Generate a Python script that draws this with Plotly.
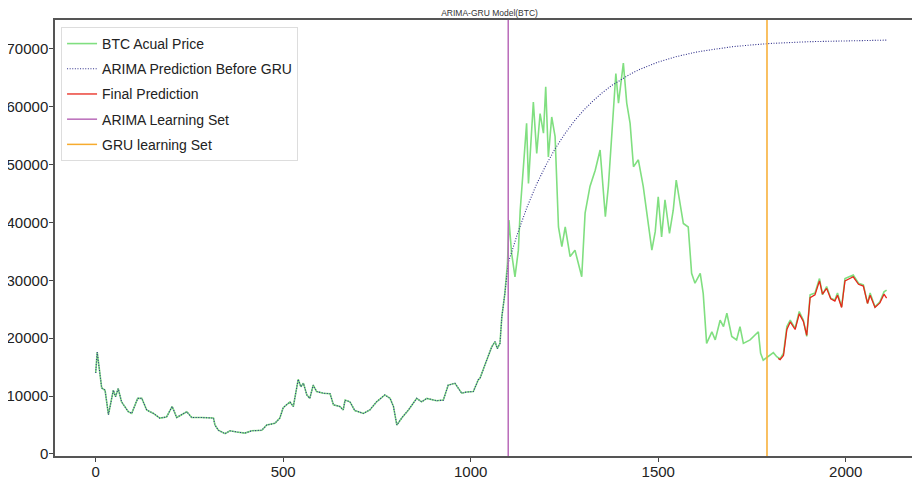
import plotly.graph_objects as go

# ---- data ----
price_x = [0, 4, 11, 16, 25, 34, 47, 53, 60, 69, 87, 96, 112, 123, 136, 154, 171, 189, 204, 216,
           243, 256, 283, 314, 318, 327, 345, 358, 376, 398, 416, 443, 456, 478, 491, 500, 518, 527,
           540, 547, 554, 563, 571, 580, 589, 607, 625, 634, 651, 660, 665, 678, 691, 714, 731, 749,
           771, 785, 794, 803, 816, 834, 856, 869, 883, 909, 927, 940, 958, 976, 989, 1007, 1020,
           1025, 1038, 1056, 1065, 1071, 1078, 1083, 1091, 1098, 1102, 1109, 1118, 1127, 1132, 1140,
           1149, 1154, 1167, 1176, 1185, 1194, 1200, 1207, 1216, 1225, 1234, 1243, 1252, 1265, 1278,
           1296, 1305, 1318, 1332, 1345, 1359, 1367, 1380, 1387, 1394, 1407, 1416, 1425, 1434, 1447,
           1460, 1469, 1483, 1492, 1500, 1509, 1518, 1530, 1540, 1548, 1559, 1567, 1580, 1589, 1598,
           1612, 1620, 1625, 1629, 1643, 1652, 1665, 1674, 1683, 1696, 1709, 1718, 1727, 1745, 1767,
           1773, 1780, 1789, 1798, 1807, 1816, 1825, 1834, 1843, 1852, 1865, 1876, 1887, 1896, 1905,
           1918, 1930, 1938, 1949, 1960, 1971, 1978, 1989, 1998, 2011, 2020, 2034, 2047, 2058, 2065,
           2078, 2091, 2102, 2109]
price_y = [14000, 17600, 14000, 11400, 11000, 6800, 11000, 9900, 11300, 9000, 7300, 7000, 9600, 9600,
           7600, 7000, 6200, 6400, 8200, 6300, 7300, 6300, 6300, 6200, 5000, 4100, 3500, 4000, 3800,
           3600, 4000, 4100, 5000, 5300, 6200, 8000, 9000, 8200, 12900, 11600, 12200, 10200, 9600,
           11900, 10800, 10500, 10400, 8500, 8200, 7600, 9300, 9000, 7500, 7000, 7600, 9000, 10200,
           9600, 8200, 5000, 6200, 7600, 9600, 9000, 9600, 9200, 9300, 11900, 12200, 10500, 10700,
           10800, 12800, 13100, 15400, 18500, 19400, 18200, 19100, 23700, 27700, 32900, 40400, 34700,
           30600, 35200, 42100, 49000, 57100, 46700, 60800, 51900, 58800, 55400, 63400, 51300, 58200,
           54800, 39200, 35800, 39200, 34100, 35200, 30600, 41600, 46200, 49000, 52500, 41000, 46200,
           58800, 65700, 60600, 67500, 60600, 57100, 49600, 50800, 46200, 42100, 35200, 38400, 44400,
           37500, 43900, 38100, 42100, 47300, 42700, 39800, 39200, 31200, 29500, 31200, 27700, 22600,
           19100, 21100, 19700, 23100, 22000, 24300, 20300, 19700, 22000, 19100, 19700, 21100, 17400,
           16200, 16600, 17100, 17500, 16800, 16400, 17400, 22000, 23100, 21700, 24600, 23100, 20300,
           27500, 27800, 30300, 27500, 28900, 26900, 26600, 27800, 25400, 30300, 30600, 30900, 29500,
           29200, 26000, 27800, 25400, 26300, 28000, 28300]

# ARIMA out-of-sample forecast (in-sample part follows the price up to index 1098)
arima_fc_x = [1100, 1125, 1150, 1175, 1200, 1225, 1250, 1275, 1300, 1325, 1350, 1375, 1400, 1425,
              1450, 1475, 1500, 1550, 1600, 1650, 1700, 1750, 1800, 1900, 2000, 2110]
arima_fc_y = [33000, 38100, 42600, 46500, 49800, 52700, 55200, 57400, 59300, 60900, 62350, 63600,
              64650, 65600, 66400, 67100, 67700, 68650, 69400, 69900, 70350, 70650, 70900, 71200,
              71380, 71480]

final_x = [1820, 1825, 1834, 1843, 1852, 1865, 1876, 1887, 1896, 1905, 1918, 1930, 1938, 1949, 1960,
           1971, 1978, 1989, 1998, 2011, 2020, 2034, 2047, 2058, 2065, 2078, 2091, 2102, 2109]
final_y = [16500, 16300, 17000, 21500, 22800, 21500, 24200, 22900, 20500, 27000, 27500, 29900, 27600,
           28600, 26800, 26400, 27400, 25300, 29900, 30300, 30600, 29300, 29000, 26000, 27400, 25300,
           26100, 27600, 26900]

arima_split = 1100
gru_split = 1790
x_ticks = [0, 500, 1000, 1500, 2000]
y_ticks = [0, 10000, 20000, 30000, 40000, 50000, 60000, 70000]
y_range = [-350, 74950]
x_range = [-108.5, 2198]

n_in = sum(1 for v in price_x if v <= 1098)
arima_x = price_x[:n_in] + arima_fc_x
arima_y = price_y[:n_in] + arima_fc_y

FONT = "Liberation Sans, Arial, sans-serif"

fig = go.Figure()
fig.add_trace(go.Scatter(x=price_x, y=price_y, mode="lines", name="BTC Acual Price", legendgroup="a",
                         line=dict(color="#80df80", width=1.6)))
fig.add_trace(go.Scatter(x=arima_x, y=arima_y, mode="lines", name="ARIMA Prediction Before GRU",
                         legendgroup="b", line=dict(color="#2e2e8a", width=1.1, dash="1px,1.6px")))
fig.add_trace(go.Scatter(x=final_x, y=final_y, mode="lines", name="Final Prediction", legendgroup="c",
                         line=dict(color="#e8261a", width=1.3)))
fig.add_trace(go.Scatter(x=[arima_split, arima_split], y=y_range, mode="lines", legendgroup="d",
                         name="ARIMA Learning Set", line=dict(color="#b96bb9", width=1.5)))
fig.add_trace(go.Scatter(x=[gru_split, gru_split], y=y_range, mode="lines", legendgroup="e",
                         name="GRU learning Set", line=dict(color="#f7ab2e", width=1.5)))

axis_common = dict(showgrid=False, zeroline=False, showline=True, linecolor="#555555", linewidth=1.5,
                   ticks="outside", ticklen=4, tickcolor="#444444", automargin=False,
                   tickfont=dict(family=FONT, size=15, color="#222222"))

# the page body adds an 8px offset, so the figure is 912x473 and sits at (8, 8)
fig.update_layout(
    width=912, height=473,
    margin=dict(l=47, r=0, t=12, b=25),
    paper_bgcolor="white", plot_bgcolor="white",
    title=dict(text="ARIMA-GRU Model(BTC)", x=0.528, xanchor="center", y=0.996, yanchor="top",
               font=dict(family=FONT, size=8.5, color="#333333"), automargin=False),
    xaxis=dict(range=x_range, tickvals=x_ticks, mirror=True, ticklabelstandoff=-3, **axis_common),
    yaxis=dict(range=y_range, tickvals=y_ticks, tickformat="d", ticklabelstandoff=-2, **axis_common),
    legend=dict(x=0.007, y=0.984, xanchor="left", yanchor="top", bgcolor="white",
                bordercolor="#dddddd", borderwidth=1,
                font=dict(family=FONT, size=14, color="#222222"),
                tracegroupgap=4),
    showlegend=True,
)

fig.write_html("out.html")
